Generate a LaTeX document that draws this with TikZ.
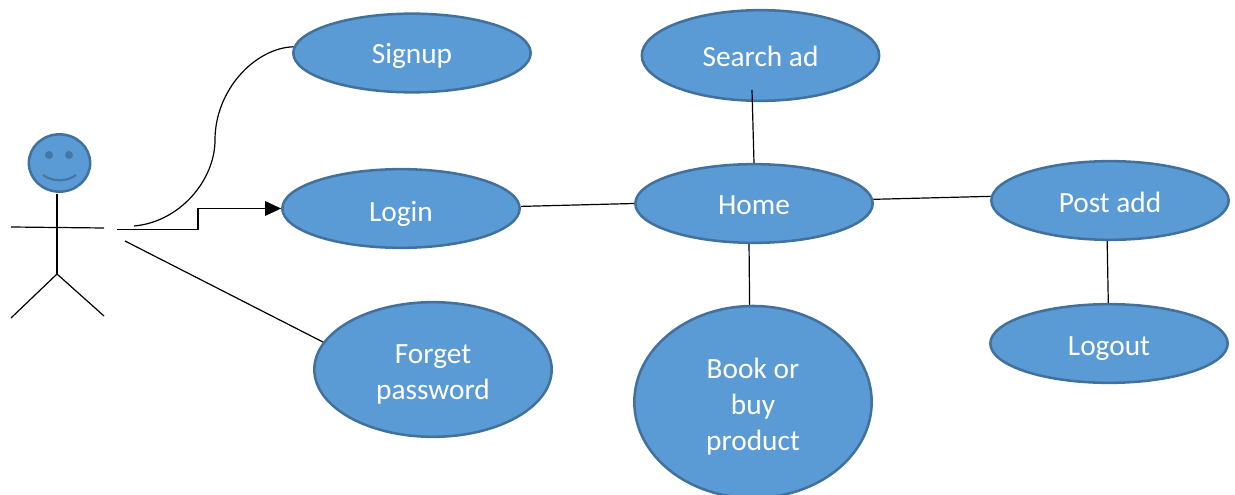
\documentclass[tikz,border=0pt]{standalone}
\usepackage{fontspec}
\setmainfont{Carlito}
\usetikzlibrary{arrows.meta,shapes.geometric}
\definecolor{usefill}{HTML}{5B9BD5}
\definecolor{useline}{HTML}{41719C}
\tikzset{
    usecase/.style={ellipse,draw=useline,fill=usefill,line width=1.9pt,inner sep=0pt,
        minimum width=178pt,minimum height=59pt,text=white,align=center,
        font=\fontsize{22}{27}\selectfont,
        execute at begin node={\rule{0pt}{#1}},
        execute at end node={\rule[-6pt]{0pt}{6pt}}},
    usecase/.default=22pt,
    link/.style={line width=0.9pt,black}
}
\begin{document}
\begin{tikzpicture}[x=0.75pt,y=-0.75pt]
    \useasboundingbox (0,0) rectangle (1235,495);
    % use cases
    \node[usecase] (signup) at (412,53) {Signup};
    \node[usecase,minimum height=68pt] (search) at (760.5,55.5) {Search ad};
    \node[usecase=25.5pt] (login) at (401,208.5) {Login};
    \node[usecase] (home) at (754,203.5) {Home};
    \node[usecase=23.5pt] (post) at (1110,200.5) {Post add};
    \node[usecase=23.5pt] (logout) at (1109,343.5) {Logout};
    \node[usecase=51pt,minimum height=101pt] (forget) at (433,369.5) {Forget\\password};
    \node[usecase=78pt,minimum height=144pt] (book) at (753,402) {Book or\\buy\\product};
    % actor
    \node[ellipse,draw=useline,fill=usefill,line width=1.9pt,inner sep=0pt,
        minimum width=46pt,minimum height=43pt] (head) at (59.5,163) {};
    \foreach \x in {49,69} {
        \fill[useline!85!usefill] (\x,155) circle[radius=3pt];
    }
    \draw[useline!85!usefill,line width=1.7pt] (43,175) .. controls (52,182) and (67,182) .. (76,175);
    \coordinate (hip) at (57,274);
    \draw[link] (57,194) -- (hip);
    \draw[link] (11,227) -- (104,228);
    \draw[link] (11,318) -- (hip) -- (104,316);
    % connectors
    \coordinate (curvestart) at (134,226);
    \coordinate (curvemid) at (215,140);
    \coordinate (elbowstart) at (117,229.5);
    \coordinate (linestart) at (125,241);
    \coordinate (searchend) at (752,90);
    \draw[link] (curvestart) .. controls (180,222) and (215,180) .. (curvemid)
        .. controls (215,90) and (255,48) .. (signup.177);
    \draw[link,-{Triangle[length=12pt,width=11pt]}] (elbowstart) -- (198,229.5) -- (198,208.5) -- (login.west);
    \draw[link] (linestart) -- (forget.166);
    \draw[link] (login.1) -- (home.west);
    \draw[link] (searchend) -- (home.north);
    \draw[link] (home.263) -- (book.92);
    \draw[link] (home.2) -- (post.178);
    \draw[link] (post.266) -- (logout.91);
\end{tikzpicture}
\end{document}
